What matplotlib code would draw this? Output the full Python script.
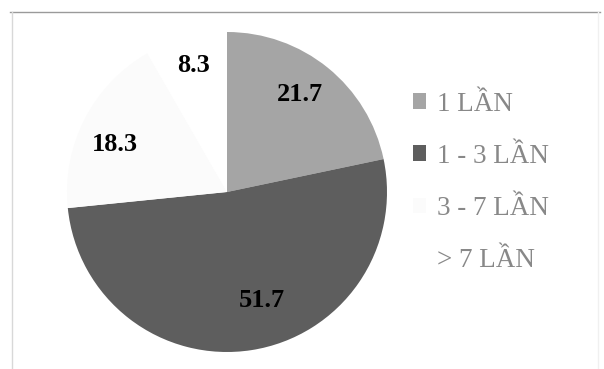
import numpy as np
import matplotlib
matplotlib.use("Agg")
import matplotlib.pyplot as plt
from matplotlib.lines import Line2D
from matplotlib.patches import Patch

categories = ["1 LẦN", "1 - 3 LẦN", "3 - 7 LẦN", "> 7 LẦN"]
values = [21.7, 51.7, 18.3, 8.3]
value_labels = ["21.7", "51.7", "18.3", "8.3"]
colors = ["#a5a5a5", "#5e5e5e", "#fbfbfb", "#ffffff"]
label_dist = [0.76, 0.71, 0.76, 0.82]
label_rot = [2, 9, 4, 0]

plt.rcParams['font.family'] = ['Liberation Serif', 'DejaVu Serif']

fig = plt.figure(figsize=(6.04, 3.69), dpi=100)
fig.patch.set_facecolor("white")

# frame lines
fig.add_artist(Line2D([10/604, 600/604], [1-11.5/369, 1-11.5/369], color="#9a9a9a", lw=1.0))
fig.add_artist(Line2D([11.5/604, 11.5/604], [1-12/369, 0], color="#d8d8d8", lw=1.0))
fig.add_artist(Line2D([597.5/604, 597.5/604], [1-12/369, 0], color="#f0f0f0", lw=1.0))

cx, cy, r = 227, 192, 160
ax = fig.add_axes([(cx - r)/604, (369 - cy - r)/369, 2*r/604, 2*r/369])
wedges, _ = ax.pie(values, colors=colors, startangle=90, counterclock=False,
                   radius=1.0, wedgeprops=dict(linewidth=0))
ax.set_xlim(-1, 1)
ax.set_ylim(-1, 1)
ax.set_aspect('equal')
ax.axis('off')

for w, lab, d, rot in zip(wedges, value_labels, label_dist, label_rot):
    ang = np.deg2rad((w.theta1 + w.theta2) / 2 + rot)
    ax.text(d*np.cos(ang), d*np.sin(ang), lab, ha='center', va='center',
            fontsize=19, fontweight='bold', color='black')

handles = [Patch(facecolor=c, edgecolor='none') for c in colors]
leg = fig.legend(handles, categories, loc='upper left',
                 bbox_to_anchor=(391/604, 1 - 70/369), frameon=False,
                 fontsize=19.5, labelcolor='#888888', handlelength=0.5,
                 handleheight=0.5, handletextpad=0.4, labelspacing=1.0,
                 borderpad=0.3)

fig.savefig("out.png", dpi=100, facecolor="white")
